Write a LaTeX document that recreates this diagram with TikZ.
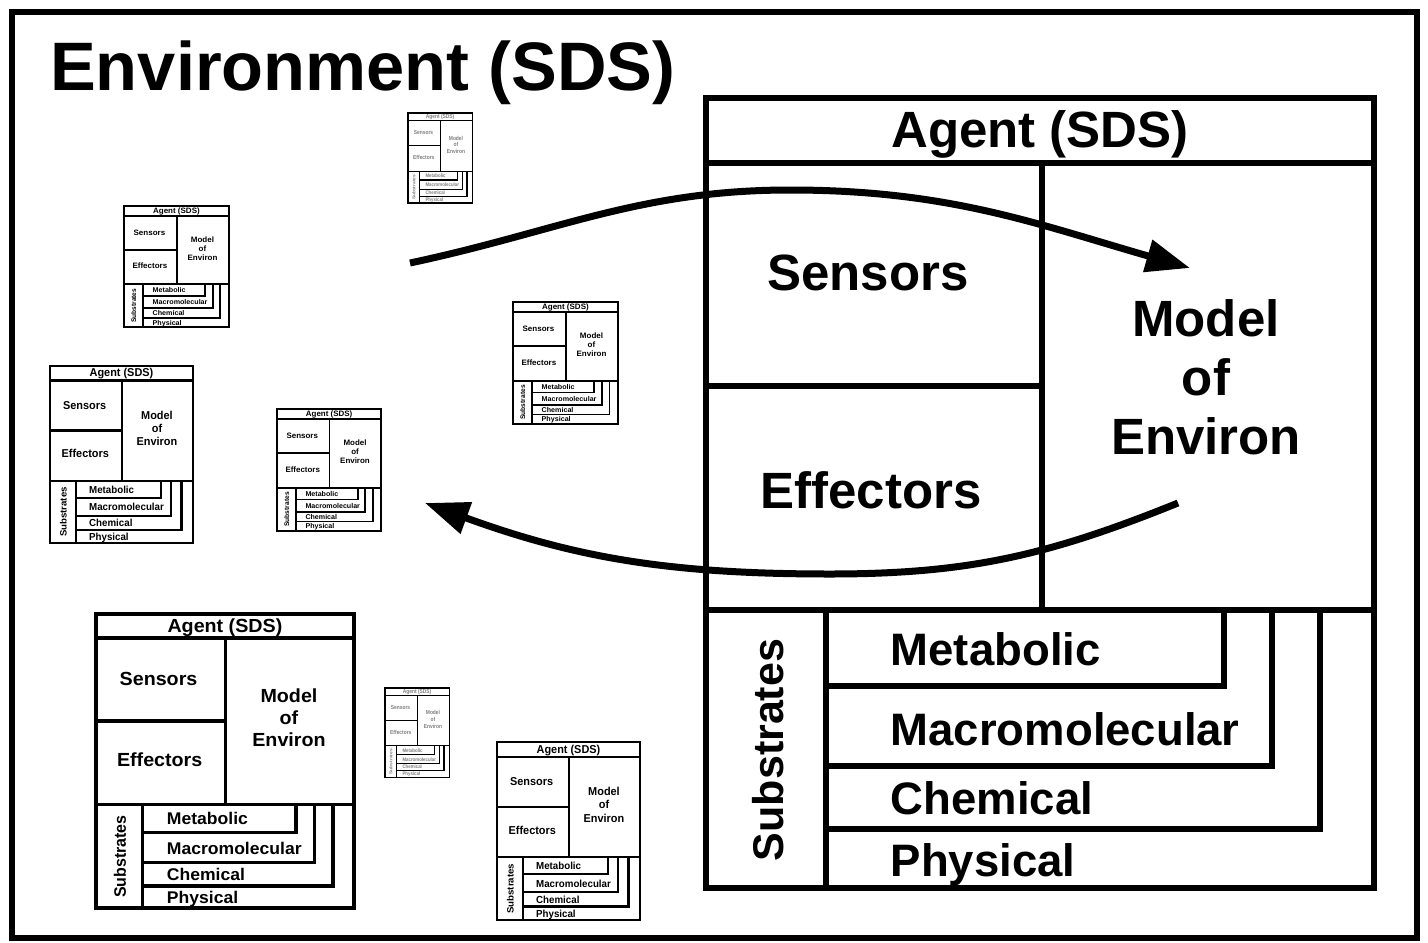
\documentclass[tikz,border=0pt]{standalone}
\usepackage{fontspec}
\setmainfont{Liberation Sans}
\usetikzlibrary{arrows.meta}
\tikzset{
  x=1pt, y=-1pt,
  lbl/.style={font=\bfseries\fontsize{51}{59}\selectfont, inner sep=0pt, align=center},
  sublbl/.style={font=\bfseries\fontsize{45.5}{50}\selectfont, inner sep=0pt, anchor=base west},
  vlbl/.style={font=\bfseries\fontsize{43}{50}\selectfont, inner sep=0pt, rotate=90},
  flow/.style={line width=7pt, -{Triangle[length=44pt,width=32pt]}},
}
\newcommand\agentbox[7]{%
\begin{scope}[shift={(#2,#3)},xscale=#4,yscale=#5,transform shape,line width=#6pt]
  \draw (0,0) rectangle (668,790);
  \draw (0,65) -- (668,65);
  \draw (0,512) -- (668,512);
  \draw (336,65) -- (336,512);
  \draw (0,288) -- (336,288);
  \draw (120,512) -- (120,790);
  \draw (120,588) -| (518,512);
  \draw (120,668) -| (566,512);
  \draw (120,731) -| (614,512);
  \node[lbl,text=#7,anchor=base] (#1-agent) at (334,49) {Agent (SDS)};
  \node[lbl,text=#7,anchor=base] (#1-sens) at (162,192) {Sensors};
  \node[lbl,text=#7,anchor=base] (#1-eff) at (165,410) {Effectors};
  \node[lbl,text=#7] (#1-model) at (500,279) {Model\\of\\Environ};
  \node[vlbl,text=#7] (#1-subs) at (62,652) {Substrates};
  \node[sublbl,text=#7] (#1-met) at (182,567) {Metabolic};
  \node[sublbl,text=#7] (#1-mac) at (182,647) {Macromolecular};
  \node[sublbl,text=#7] (#1-che) at (182,716) {Chemical};
  \node[sublbl,text=#7] (#1-phy) at (182,778) {Physical};
\end{scope}}
\begin{document}
\begin{tikzpicture}
\useasboundingbox[fill=white] (0,0) rectangle (1428,943);
\draw[line width=6pt] (12,12) rectangle (1417,938);
\node[font=\bfseries\fontsize{68.6}{80}\selectfont, inner sep=0pt, anchor=base west] (title) at (50,90) {Environment (SDS)};

\agentbox{big}{706}{98}{1}{1}{5.5}{black}
\agentbox{med}{96}{614}{0.386}{0.372}{3.5}{black}
\agentbox{a2}{50}{366}{0.214}{0.224}{2.2}{black}
\agentbox{a6}{497}{742}{0.214}{0.225}{2.2}{black}
\agentbox{a3}{124}{206}{0.157}{0.153}{1.8}{black}
\agentbox{a4}{513}{302}{0.157}{0.154}{1.8}{black}
\agentbox{a5}{277}{409}{0.156}{0.154}{1.8}{black}
\agentbox{t1}{408}{113}{0.096}{0.114}{1.2}{gray}
\agentbox{t2}{385}{688}{0.096}{0.113}{1.2}{gray}

\coordinate (senseStart) at (410,263);
\coordinate (senseEnd) at (1190,268);
\coordinate (actStart) at (1178,503);
\coordinate (actEnd) at (425,503);
\draw[flow] (senseStart) to[out=12,in=180] (790,190) to[out=0,in=164] (senseEnd);
\draw[flow] (actStart) to[out=202,in=0] (830,574) to[out=180,in=-20] (actEnd);
\end{tikzpicture}
\end{document}
